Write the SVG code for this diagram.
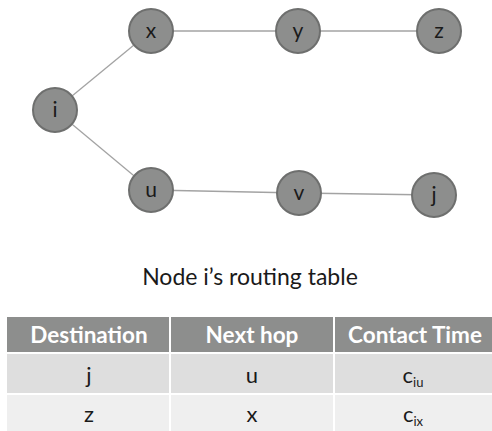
<svg xmlns="http://www.w3.org/2000/svg" width="492" height="431" viewBox="0 0 492 431">
<style>
.node circle{fill:#8d8e8d;stroke:#6e6f6e;stroke-width:2}
.node text{font-family:Lato,"Liberation Sans",sans-serif;font-size:21px;fill:#1a1a1a;text-anchor:middle}
.edge{stroke:#a3a3a3;stroke-width:1.3;fill:none}
.title{font-family:Lato,"Liberation Sans",sans-serif;font-size:23px;fill:#1a1a1a;text-anchor:middle}
.hd{fill:#8d8e8d}
.r1{fill:#dedede}
.r2{fill:#efefef}
.th{font-family:Lato,"Liberation Sans",sans-serif;font-size:22.5px;font-weight:bold;fill:#ffffff;text-anchor:middle}
.td{font-family:Lato,"Liberation Sans",sans-serif;font-size:22px;fill:#1a1a1a;text-anchor:middle}
.sub{font-size:13px}
</style>
<rect width="492" height="431" fill="#ffffff"/>
<g id="connectors">
<line class="edge" x1="55" y1="110" x2="151" y2="31"/>
<line class="edge" x1="55" y1="110" x2="151" y2="190"/>
<line class="edge" x1="151" y1="31" x2="298" y2="31"/>
<line class="edge" x1="298" y1="31" x2="439" y2="31"/>
<line class="edge" x1="151" y1="190" x2="299" y2="193"/>
<line class="edge" x1="299" y1="193" x2="434" y2="195"/>
</g>
<g id="node-x" class="node"><circle cx="151" cy="31" r="22"/><text x="151" y="38">x</text></g>
<g id="node-y" class="node"><circle cx="298" cy="31" r="22"/><text x="298" y="38">y</text></g>
<g id="node-z" class="node"><circle cx="439" cy="31" r="22"/><text x="439" y="38">z</text></g>
<g id="node-i" class="node"><circle cx="55" cy="110" r="22"/><text x="55" y="117">i</text></g>
<g id="node-u" class="node"><circle cx="151" cy="190" r="22"/><text x="151" y="197">u</text></g>
<g id="node-v" class="node"><circle cx="299" cy="193" r="22"/><text x="299" y="200">v</text></g>
<g id="node-j" class="node"><circle cx="434" cy="195" r="22"/><text x="434" y="202">j</text></g>
<text class="title" x="250" y="285">Node i’s routing table</text>
<g id="table">
<rect class="hd" x="7" y="317" width="162" height="35"/>
<rect class="hd" x="171" y="317" width="162" height="35"/>
<rect class="hd" x="335" y="317" width="157" height="35"/>
<rect class="r1" x="7" y="354" width="162" height="39"/>
<rect class="r1" x="171" y="354" width="162" height="39"/>
<rect class="r1" x="335" y="354" width="157" height="39"/>
<rect class="r2" x="7" y="395" width="162" height="36"/>
<rect class="r2" x="171" y="395" width="162" height="36"/>
<rect class="r2" x="335" y="395" width="157" height="36"/>
<text class="th" x="89" y="343">Destination</text>
<text class="th" x="252" y="343">Next hop</text>
<text class="th" x="415" y="343">Contact Time</text>
<text class="td" x="89" y="383">j</text>
<text class="td" x="252" y="383">u</text>
<text class="td" x="413" y="383">c<tspan class="sub" dy="4">iu</tspan></text>
<text class="td" x="89" y="422">z</text>
<text class="td" x="252" y="422">x</text>
<text class="td" x="413" y="422">c<tspan class="sub" dy="4">ix</tspan></text>
</g>
</svg>
